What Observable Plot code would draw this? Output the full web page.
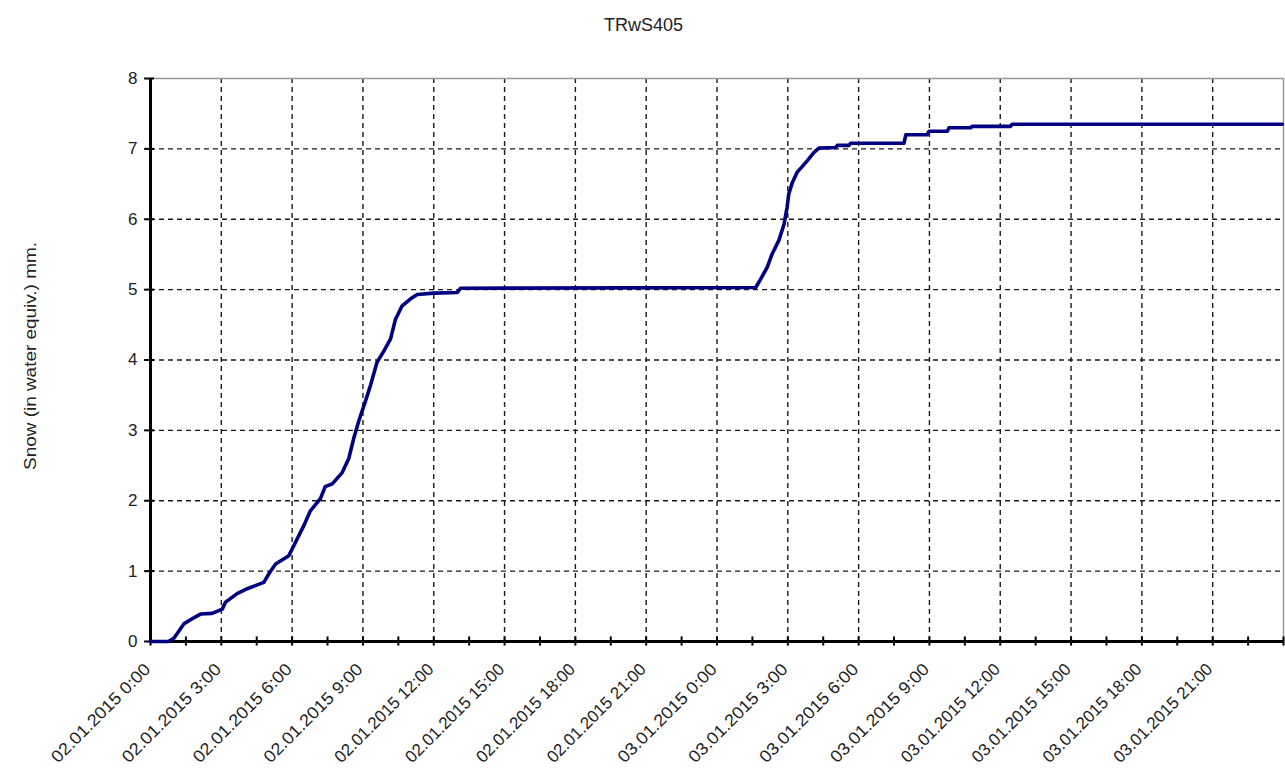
<!DOCTYPE html>
<html><head><meta charset="utf-8">
<script src="https://cdn.jsdelivr.net/npm/d3@7"></script>
<script src="https://cdn.jsdelivr.net/npm/@observablehq/plot@0.6"></script>
<style>body{margin:0;background:#fff} svg{display:block}</style>
</head><body><div id="chart"></div>
<script>
const title = "TRwS405";
const yLabel = "Snow (in water equiv.) mm.";
const startDate = "2015-01-02T00:00:00Z";
// hours since 02.01.2015 0:00
const hours = [0,0.76,1.0,1.41,1.8,2.12,2.61,3.04,3.18,3.67,
  4.10,4.80,5.05,5.30,5.86,6.07,6.50,6.78,7.20,7.40,
  7.70,8.12,8.40,8.62,8.83,9.11,9.32,9.60,9.89,10.17,
  10.38,10.66,11.02,11.30,12.0,13.0,13.14,25.64,25.85,26.13,
  26.34,26.62,26.84,26.97,27.04,27.19,27.40,27.82,28.11,28.32,
  29.03,29.1,29.6,29.66,31.92,32.0,32.9,32.98,33.76,33.83,
  34.75,34.8,36.44,36.5,47.95];
const snow = [0,0,0.05,0.25,0.33,0.39,0.40,0.46,0.56,0.68,
  0.75,0.84,0.98,1.10,1.22,1.36,1.65,1.86,2.03,2.2,
  2.24,2.40,2.60,2.90,3.14,3.42,3.64,3.97,4.13,4.30,
  4.58,4.77,4.87,4.93,4.95,4.96,5.02,5.03,5.15,5.32,
  5.51,5.70,5.93,6.17,6.36,6.52,6.67,6.83,6.95,7.01,
  7.02,7.05,7.05,7.08,7.08,7.20,7.20,7.25,7.25,7.30,
  7.30,7.32,7.32,7.35,7.35];
const yTicks = [0,1,2,3,4,5,6,7,8];
const yGrid = [1,2,3,4,5,6,7];
const labelHours = [0,3,6,9,12,15,18,21,24,27,30,33,36,39,42,45];
const gridHours = [3,6,9,12,15,18,21,24,27,30,33,36,39,42,45];
const tickHours = [0,1.5,3,4.5,6,7.5,9,10.5,12,13.5,15,16.5,18,19.5,21,22.5,24,25.5,27,28.5,30,31.5,33,34.5,36,37.5,39,40.5,42,43.5,45,46.5,48];

const t0 = new Date(startDate).getTime();
const toDate = h => new Date(t0 + h * 3600e3);
const fmt = d3.utcFormat("%d.%m.%Y %-H:%M");
const data = hours.map((h, i) => ({t: toDate(h), v: snow[i]}));
const FONT = "'Liberation Sans', Arial, sans-serif";

const chart = Plot.plot({
  width: 1285, height: 776,
  marginLeft: 150, marginRight: 2, marginTop: 78, marginBottom: 135,
  style: {fontFamily: FONT, fontSize: "17px", background: "#fff", color: "#000"},
  x: {type: "utc", domain: [toDate(0), toDate(48)], axis: null},
  y: {domain: [0, 8], axis: null},
  marks: [
    Plot.ruleY(yGrid, {stroke: "#1a1a1a", strokeWidth: 1.4, strokeDasharray: "5,4"}),
    Plot.ruleX(gridHours, {x: d => toDate(d), stroke: "#1a1a1a", strokeWidth: 1.4, strokeDasharray: "5,4"}),
    Plot.ruleY([8], {stroke: "#999", strokeWidth: 1.5}),
    Plot.ruleX([48], {x: d => toDate(d), stroke: "#999", strokeWidth: 1.5}),
    Plot.ruleX([0], {x: d => toDate(d), stroke: "#000", strokeWidth: 3}),
    Plot.ruleY([0], {stroke: "#000", strokeWidth: 3}),
    Plot.ruleX(tickHours, {x: d => toDate(d), y1: -0.065, y2: 0.065, stroke: "#000", strokeWidth: 2}),
    Plot.ruleY(yTicks, {x1: toDate(-0.25), x2: toDate(0.17), stroke: "#000", strokeWidth: 2}),
    Plot.line(data, {x: "t", y: "v", stroke: "#000080", strokeWidth: 3.6}),
    Plot.text(yTicks, {x: toDate(0), y: d => d, text: d => String(d), textAnchor: "end", dx: -13, fill: "#222"}),
    Plot.text(labelHours, {x: d => toDate(d), y: 0, text: d => fmt(toDate(d)), rotate: -45, textAnchor: "end", dx: -3, dy: 25, fill: "#222", className: "xlab"}),
    Plot.text([title], {frameAnchor: "top-left", text: d => d, dx: 643 - 150, dy: 18 - 78, textAnchor: "middle", fill: "#222", fontSize: 18}),
    Plot.text([yLabel], {frameAnchor: "left", text: d => d, rotate: -90, dx: -120, dy: -4, textAnchor: "middle", fill: "#222", className: "ylab"})
  ]
});
document.getElementById("chart").appendChild(chart);
d3.select(chart).selectAll(".xlab text").attr("textLength", 132).attr("lengthAdjust", "spacingAndGlyphs");
d3.select(chart).selectAll(".ylab text").attr("textLength", 228).attr("lengthAdjust", "spacingAndGlyphs");
</script>
</body></html>
